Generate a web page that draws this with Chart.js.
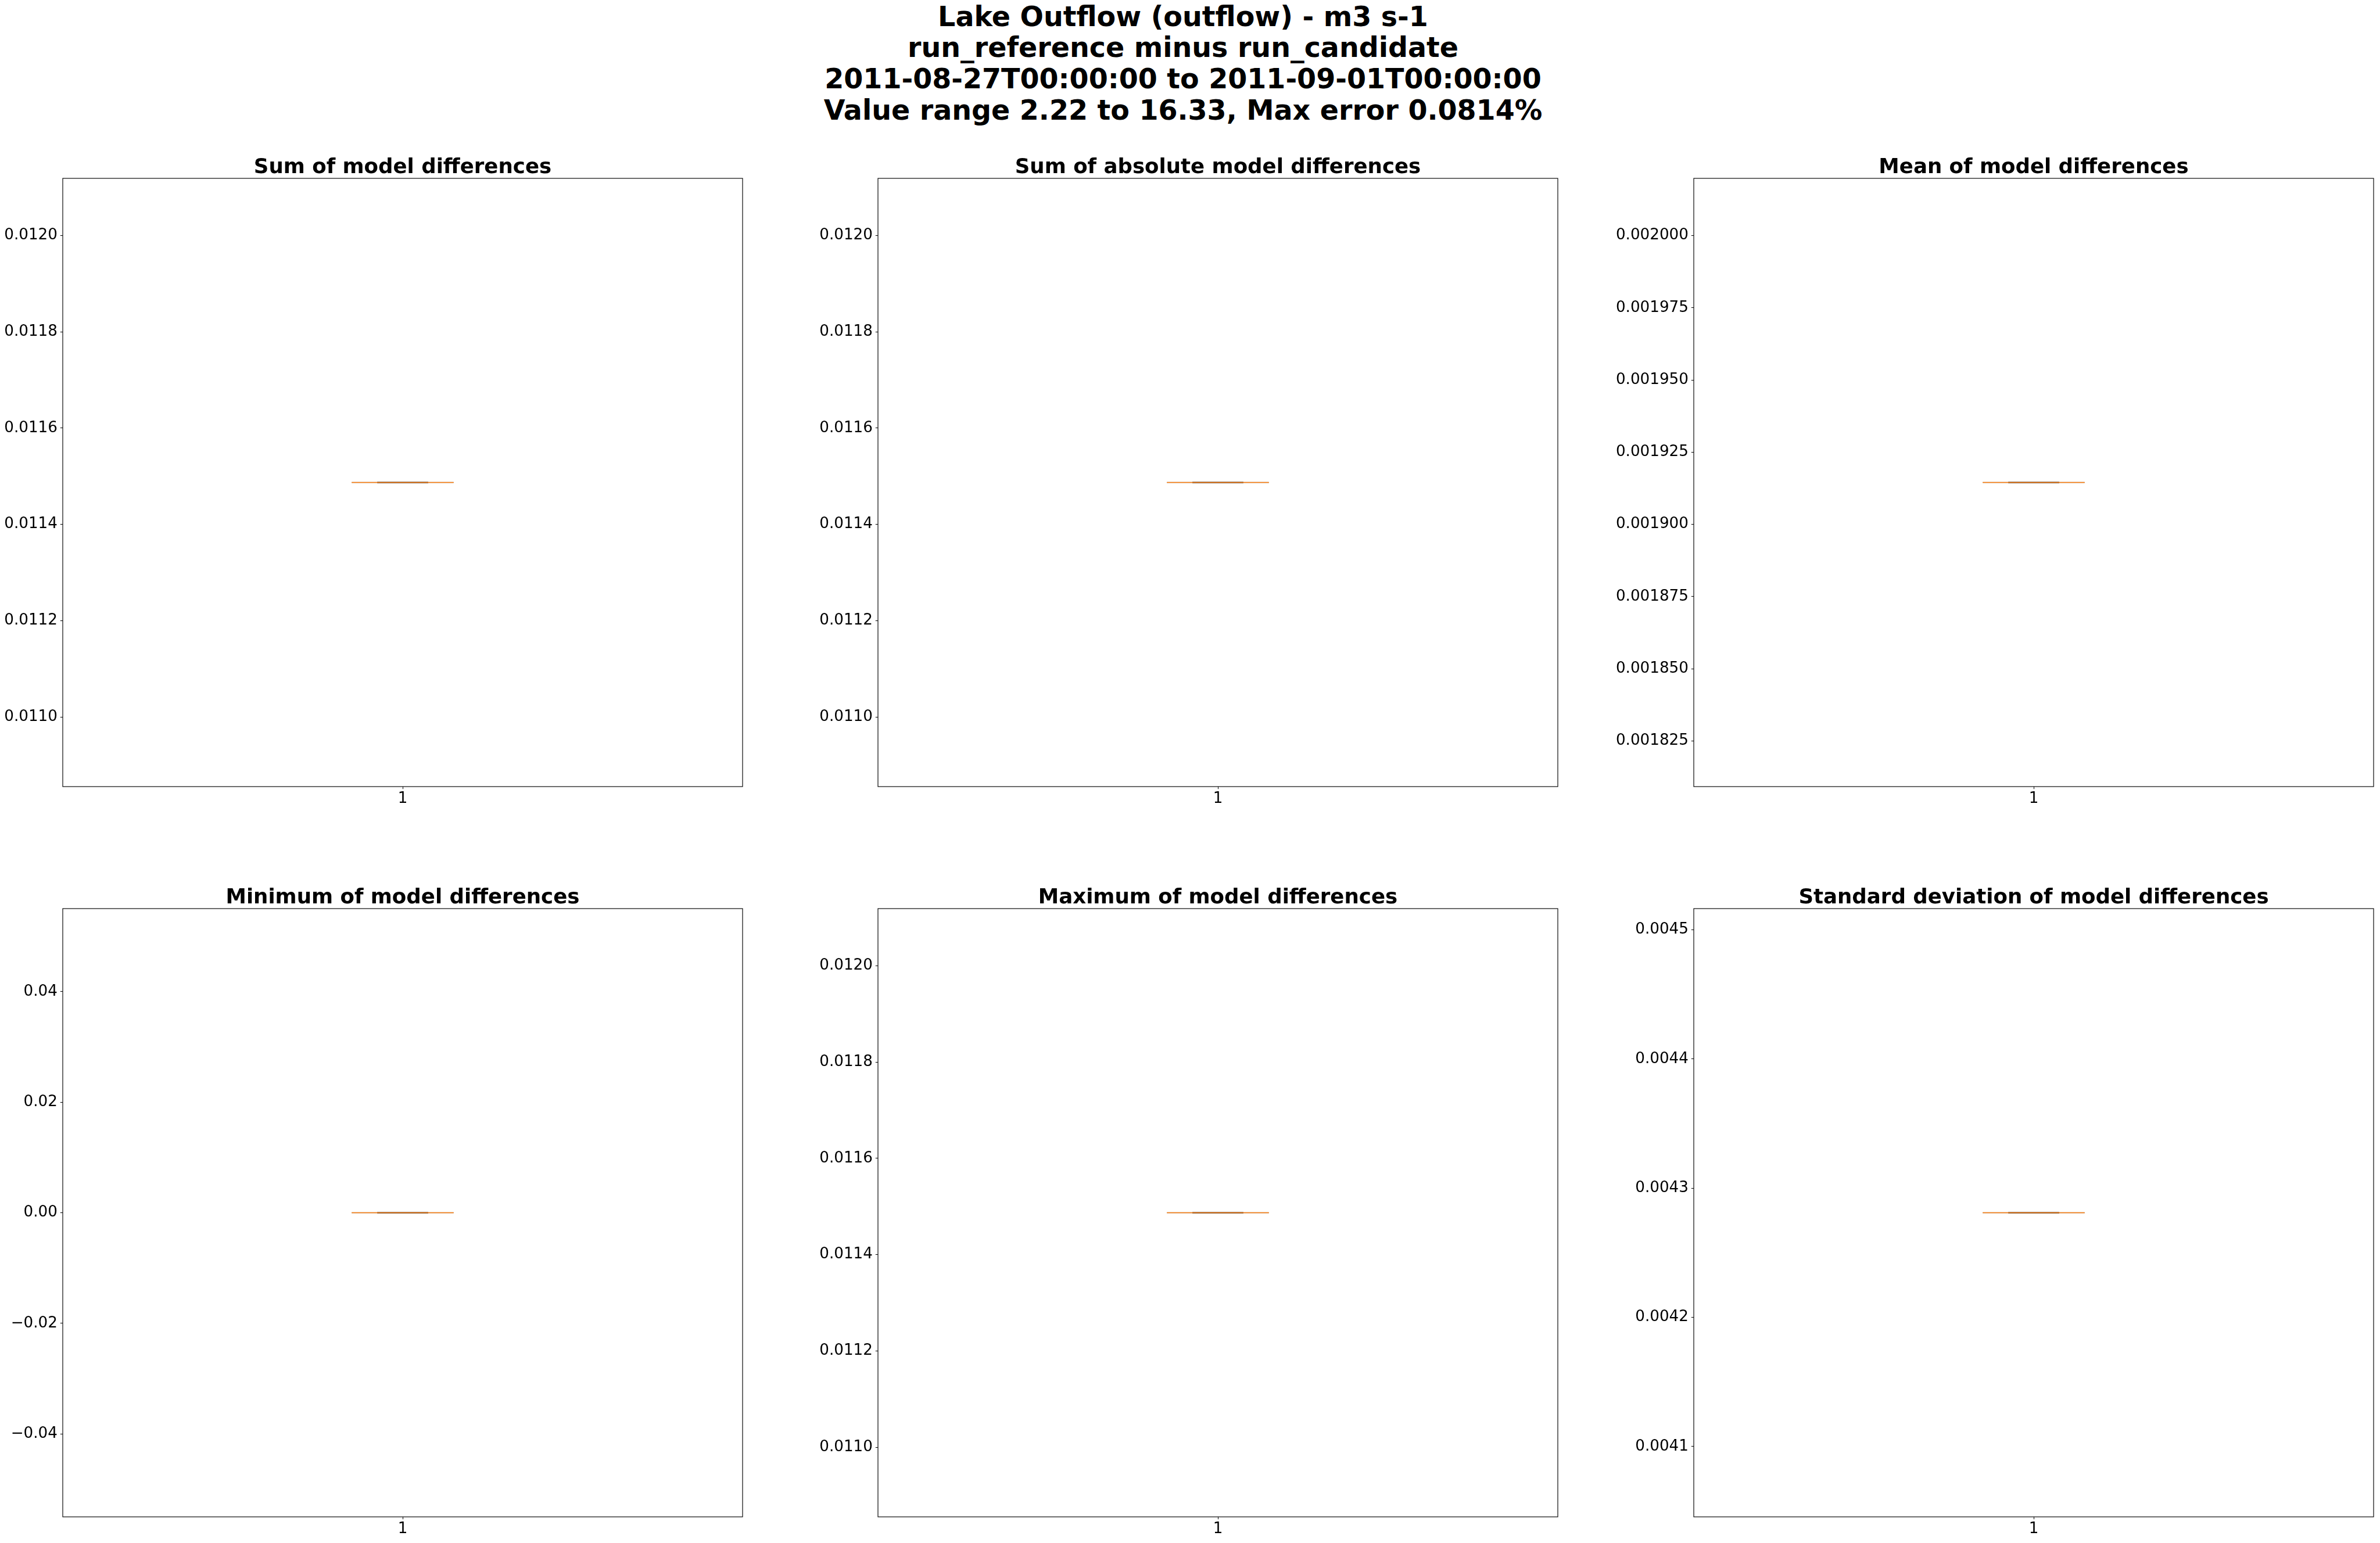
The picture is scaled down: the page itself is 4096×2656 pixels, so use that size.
<!DOCTYPE html>
<html>
<head>
<meta charset="utf-8">
<script src="https://cdn.jsdelivr.net/npm/chart.js@4.4.1/dist/chart.umd.min.js"></script>
<style>
  html, body { margin: 0; padding: 0; background: #ffffff; }
  body { width: 4096px; height: 2656px; overflow: hidden; position: relative; }
  #suptitle {
    position: absolute; left: 0; width: 4072px; top: 1.8px;
    text-align: center; font-family: 'DejaVu Sans', sans-serif; font-weight: bold;
    font-size: 47.5px; line-height: 53.6px; color: #000; white-space: nowrap;
  }
  canvas { position: absolute; }
</style>
</head>
<body>
<div id="suptitle"></div>
<script>
// ---------------- DATA ----------------
const suptitleLines = [
  "Lake Outflow (outflow) - m3 s-1",
  "run_reference minus run_candidate",
  "2011-08-27T00:00:00 to 2011-09-01T00:00:00",
  "Value range 2.22 to 16.33, Max error 0.0814%"
];
const panelTitles = [
  "Sum of model differences",
  "Sum of absolute model differences",
  "Mean of model differences",
  "Minimum of model differences",
  "Maximum of model differences",
  "Standard deviation of model differences"
];
// each panel holds a single value, so the box plot collapses to one line
const panelValues = [0.011487, 0.011487, 0.0019145, 0.0, 0.011487, 0.004281];
const boxPositions = [1];
const xTickLabels = ["1"];
const yTicksSum = ["0.0110", "0.0112", "0.0114", "0.0116", "0.0118", "0.0120"];
const yTicksAbs = ["0.0110", "0.0112", "0.0114", "0.0116", "0.0118", "0.0120"];
const yTicksMean = ["0.001825", "0.001850", "0.001875", "0.001900", "0.001925", "0.001950", "0.001975", "0.002000"];
const yTicksMin = ["\u22120.04", "\u22120.02", "0.00", "0.02", "0.04"];
const yTicksMax = ["0.0110", "0.0112", "0.0114", "0.0116", "0.0118", "0.0120"];
const yTicksStd = ["0.0041", "0.0042", "0.0043", "0.0044", "0.0045"];
const panelYTicks = [yTicksSum, yTicksAbs, yTicksMean, yTicksMin, yTicksMax, yTicksStd];

// ---------------- LAYOUT ----------------
document.getElementById('suptitle').innerHTML = suptitleLines.join('<br>');
Chart.defaults.font.family = "'DejaVu Sans', sans-serif";
Chart.defaults.color = '#000';

const colLeft = [108, 1511, 2915];
const colYa = [106, 140, 140];
const rowTop = [307, 1564];
const plotW = 1170, plotH = 1047;
const Ta = 60, Xa = 45, Rp = 10;
const tickFont = 26.2, titleFont = 35.6;

const spines = {
  id: 'spines',
  afterDraw(chart) {
    const { ctx, chartArea: a } = chart;
    ctx.save();
    ctx.strokeStyle = '#000';
    ctx.lineWidth = 1.15;
    ctx.strokeRect(a.left, a.top, a.right - a.left, a.bottom - a.top);
    ctx.restore();
  }
};

function parseTick(s) { return parseFloat(s.replace('\u2212', '-')); }

panelValues.forEach((v, i) => {
  const col = i % 3, row = Math.floor(i / 3);
  const Ya = colYa[col];
  const cv = document.createElement('canvas');
  const w = Ya + plotW + Rp, h = Ta + plotH + Xa;
  cv.width = w; cv.height = h;
  cv.style.left = (colLeft[col] - Ya) + 'px';
  cv.style.top = (rowTop[row] - Ta) + 'px';
  cv.style.width = w + 'px'; cv.style.height = h + 'px';
  document.body.appendChild(cv);

  const span = v === 0 ? 0.055 : Math.abs(v) * 0.055;
  const yLabels = panelYTicks[i];
  const yVals = yLabels.map(parseTick);
  const pos = boxPositions[0];
  const halfBox = 0.075, halfCap = 0.0375;

  new Chart(cv, {
    type: 'scatter',
    data: {
      datasets: [
        { label: 'median', data: [{x: pos - halfBox, y: v}, {x: pos + halfBox, y: v}],
          borderColor: '#ff7f0e', borderWidth: 1.4, showLine: true, pointRadius: 0, order: 0 },
        { label: 'caps', data: [{x: pos - halfCap, y: v}, {x: pos + halfCap, y: v}],
          borderColor: '#000000', borderWidth: 1.9, showLine: true, pointRadius: 0, order: 1 },
        { label: 'whisker', data: [{x: pos, y: v}, {x: pos, y: v}],
          borderColor: '#000000', borderWidth: 1.2, showLine: true, pointRadius: 0, order: 2 },
        { label: 'box', data: [{x: pos - halfBox, y: v}, {x: pos + halfBox, y: v}],
          borderColor: 'rgba(0,0,0,0.55)', borderWidth: 1.6, showLine: true, pointRadius: 0, order: 3 }
      ]
    },
    options: {
      responsive: false, animation: false, devicePixelRatio: 1,
      layout: { padding: { left: 0, right: Rp, top: 0, bottom: 0 } },
      plugins: {
        legend: { display: false },
        tooltip: { enabled: false },
        title: {
          display: true, text: panelTitles[i], fullSize: false,
          color: '#000', font: { size: titleFont, weight: 'bold', lineHeight: 1.0 },
          padding: { top: Ta - titleFont, bottom: 0 }
        }
      },
      scales: {
        x: {
          type: 'linear', min: 0.5, max: 1.5,
          afterBuildTicks: (s) => { s.ticks = boxPositions.map(p => ({ value: p })); },
          afterFit: (s) => { s.height = Xa; },
          ticks: { font: { size: tickFont }, color: '#000', padding: 0.8, autoSkip: false,
                   maxRotation: 0, callback: (val, idx) => xTickLabels[idx] },
          grid: { display: true, drawOnChartArea: false, drawTicks: true, tickLength: 4.2,
                  tickWidth: 1, tickColor: '#000' },
          border: { display: false }
        },
        y: {
          type: 'linear', min: v - span, max: v + span,
          afterBuildTicks: (s) => { s.ticks = yVals.map(t => ({ value: t })); },
          afterFit: (s) => { s.width = Ya; },
          ticks: { font: { size: tickFont }, color: '#000', padding: 4.9, autoSkip: false,
                   callback: (val, idx) => yLabels[idx] },
          grid: { display: true, drawOnChartArea: false, drawTicks: true, tickLength: 4.2,
                  tickWidth: 1, tickColor: '#000' },
          border: { display: false }
        }
      }
    },
    plugins: [spines]
  });
});
</script>
</body>
</html>
